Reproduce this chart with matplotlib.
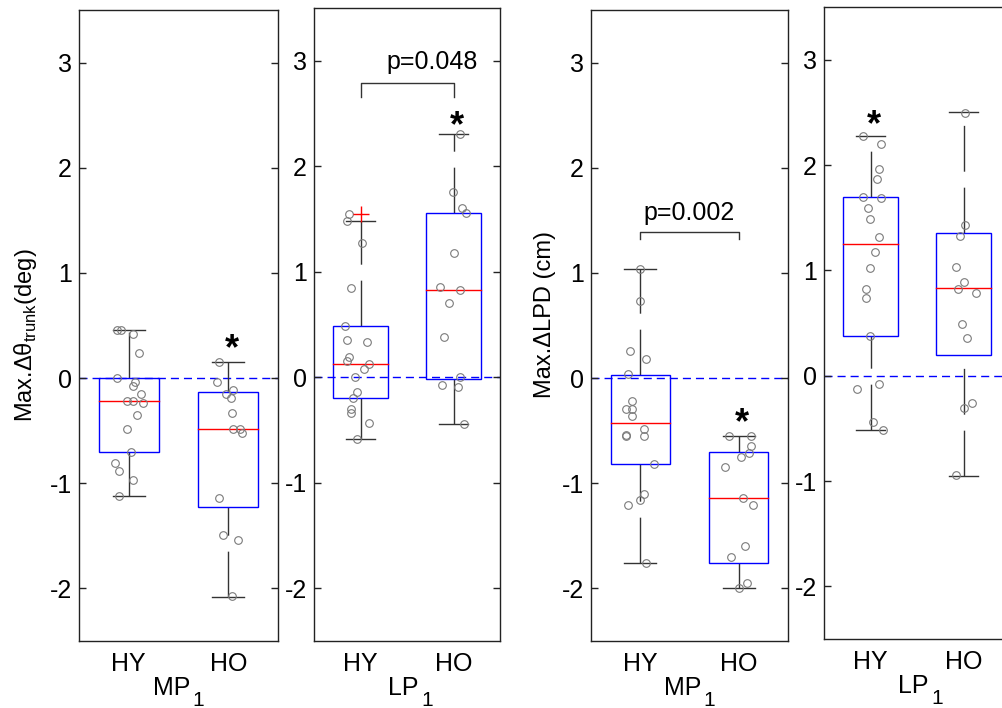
import numpy as np
import matplotlib
matplotlib.use('Agg')
import matplotlib.pyplot as plt
from matplotlib.patches import Rectangle

plt.rcParams['font.family'] = ['Liberation Sans', 'DejaVu Sans']
plt.rcParams['mathtext.fontset'] = 'custom'
plt.rcParams['mathtext.rm'] = 'Liberation Sans'
plt.rcParams['axes.unicode_minus'] = False

groups = ['HY', 'HO']
yticks = [-2, -1, 0, 1, 2, 3]

# ---- MP1, trunk angle (deg) ----
mp1_theta_hy = [0.46, 0.46, 0.42, 0.24, 0.0, -0.04, -0.08, -0.15, -0.22, -0.22,
                -0.24, -0.35, -0.48, -0.70, -0.81, -0.88, -0.97, -1.12]
mp1_theta_ho = [0.15, -0.04, -0.11, -0.15, -0.19, -0.33, -0.48, -0.48, -0.52,
                -1.14, -1.49, -1.54, -2.07]
# box stats: lower whisker, q1, median, q3, upper whisker
mp1_theta_stats = [[-1.12, -0.70, -0.22, 0.0, 0.46],
                   [-2.08, -1.23, -0.48, -0.13, 0.15]]

# ---- LP1, trunk angle (deg) ----
lp1_theta_hy = [1.55, 1.48, 1.27, 0.85, 0.49, 0.355, 0.336, 0.19, 0.15, 0.124,
                0.076, 0.003, -0.14, -0.197, -0.30, -0.336, -0.435, -0.584]
lp1_theta_ho = [2.31, 1.76, 1.60, 1.56, 1.18, 0.86, 0.83, 0.70, 0.386, 0.004,
                -0.07, -0.094, -0.44]
lp1_theta_stats = [[-0.584, -0.197, 0.127, 0.49, 1.48],
                   [-0.44, -0.02, 0.83, 1.56, 2.31]]
lp1_theta_outliers = [[1.55], []]

# ---- MP1, LPD (cm) ----
mp1_lpd_hy = [1.04, 0.73, 0.26, 0.185, 0.04, -0.22, -0.29, -0.29, -0.365, -0.54,
              -0.55, -0.48, -0.55, -0.82, -1.10, -1.16, -1.21, -1.76]
mp1_lpd_ho = [-0.55, -0.55, -0.65, -0.71, -0.755, -0.845, -1.14, -1.21, -1.60,
              -1.70, -1.95, -2.0]
mp1_lpd_stats = [[-1.76, -0.82, -0.425, 0.034, 1.04],
                 [-2.0, -1.76, -1.14, -0.70, -0.55]]

# ---- LP1, LPD (cm) ----
lp1_lpd_hy = [2.28, 2.20, 1.96, 1.87, 1.70, 1.69, 1.59, 1.49, 1.32, 1.17, 1.02,
              0.82, 0.74, 0.38, -0.08, -0.13, -0.44, -0.52]
lp1_lpd_ho = [2.49, 1.43, 1.33, 1.03, 0.89, 0.82, 0.785, 0.49, 0.36, -0.26,
              -0.31, -0.94]
lp1_lpd_stats = [[-0.52, 0.38, 1.25, 1.70, 2.28],
                 [-0.95, 0.20, 0.83, 1.35, 2.50]]

# horizontal jitter of the scatter points
jit_mp1_theta = [[-0.12, -0.08, 0.04, 0.10, -0.12, 0.06, 0.04, 0.12, -0.02, 0.04,
                  0.14, 0.08, -0.02, 0.02, -0.14, -0.10, 0.04, -0.10],
                 [-0.09, -0.11, 0.05, -0.02, 0.03, 0.04, 0.05, 0.12, 0.14, -0.09,
                  -0.05, 0.10, 0.04]]
jit_lp1_theta = [[-0.12, -0.14, 0.02, -0.10, -0.17, -0.14, 0.065, -0.12, -0.14, 0.087,
                  0.04, -0.06, -0.036, -0.08, -0.10, -0.10, 0.087, -0.036],
                 [0.07, -0.01, 0.09, 0.13, 0.0, -0.14, 0.07, -0.05, -0.10, 0.07,
                  -0.12, 0.05, 0.11]]
jit_mp1_lpd = [[0.0, 0.0, -0.10, 0.06, -0.12, -0.08, -0.14, -0.08, -0.08, -0.14,
                -0.14, 0.04, 0.04, 0.14, 0.04, 0.0, -0.12, 0.06],
               [-0.10, 0.12, 0.125, 0.10, 0.02, -0.14, 0.04, 0.14, 0.06, -0.08,
                0.08, 0.0]]
jit_lp1_lpd = [[-0.08, 0.11, 0.09, 0.07, -0.08, 0.11, -0.03, -0.01, 0.09, 0.05,
                -0.01, -0.05, -0.05, -0.01, 0.09, -0.14, 0.03, 0.13],
               [0.02, 0.02, -0.04, -0.08, 0.0, -0.06, 0.13, -0.02, 0.04, 0.09,
                0.0, -0.08]]

font_size = 18
label_size = 17
frame_col = '#222222'
whisk_col = '#333333'

fig = plt.figure(figsize=(10.02, 7.08), dpi=100)
W, H = 1002.0, 708.0


def make_axes(x0, y0, x1, y1):
    return fig.add_axes([x0 / W, 1 - y1 / H, (x1 - x0) / W, (y1 - y0) / H])


def sub_label(ax, main, sub):
    # MATLAB-style label with a big, low subscript
    ax.annotate(main, xy=(0.5, 0), xycoords='axes fraction', xytext=(12, -47),
                textcoords='offset pixels', ha='right', va='center',
                fontsize=font_size, annotation_clip=False)
    ax.annotate(sub, xy=(0.5, 0), xycoords='axes fraction', xytext=(14, -50),
                textcoords='offset pixels', ha='left', va='top',
                fontsize=font_size - 3, annotation_clip=False)


def panel(ax, samples, jitter, stats, xlabel, outliers=None):
    for i in range(2):
        x = i + 1
        lo, q1, med, q3, hi = stats[i]
        # whiskers (dash pattern starts at the lower end)
        ax.plot([x, x], [lo, q1], color=whisk_col, lw=1, dashes=(33, 11.5), zorder=2)
        ax.plot([x, x], [q3, hi], color=whisk_col, lw=1, dashes=(33, 11.5), zorder=2)
        ax.plot([x - 0.16, x + 0.16], [lo, lo], color=whisk_col, lw=1, zorder=2)
        ax.plot([x - 0.16, x + 0.16], [hi, hi], color=whisk_col, lw=1, zorder=2)
        ax.add_patch(Rectangle((x - 0.3, q1), 0.6, q3 - q1, fill=False,
                               ec='blue', lw=1, zorder=3))
        ax.plot([x - 0.3, x + 0.3], [med, med], color='red', lw=1, zorder=3)
        ax.plot(x + np.array(jitter[i]), samples[i], 'o', mfc='none', mec='#7a7a7a',
                ms=5.5, mew=0.8, zorder=4)
        if outliers is not None and len(outliers[i]) > 0:
            ax.plot([x] * len(outliers[i]), outliers[i], '+', color='red',
                    ms=11, mew=1, zorder=4)
    ax.axhline(0, color='blue', lw=1, dashes=(5.8, 3.6), zorder=1)
    ax.set_xlim(0.5, 2.5)
    ax.set_ylim(-2.5, 3.5)
    ax.set_yticks(yticks)
    ax.set_yticklabels([str(t) for t in yticks])
    ax.set_xticks([1, 2])
    ax.set_xticklabels(groups)
    ax.tick_params(axis='y', direction='in', length=5, width=1, color=frame_col,
                   left=True, right=True, labelsize=font_size, pad=5)
    ax.tick_params(axis='x', length=0, labelsize=font_size, pad=8)
    for s in ax.spines.values():
        s.set_color(frame_col)
        s.set_linewidth(1)
    sub_label(ax, xlabel, '1')


def star(ax, x, y):
    ax.annotate('*', xy=(x, y), xytext=(0, -21), textcoords='offset pixels',
                ha='center', va='baseline', fontsize=26, fontweight='bold')


def bracket(ax, y_top, y_bot, text, tx, ty):
    ax.plot([1, 1, 2, 2], [y_bot, y_top, y_top, y_bot], color=whisk_col, lw=1)
    ax.text(tx, ty, text, ha='center', va='center', fontsize=font_size)


ax1 = make_axes(79, 10, 278, 641)
panel(ax1, [mp1_theta_hy, mp1_theta_ho], jit_mp1_theta, mp1_theta_stats, 'MP')
ax1.set_ylabel('Max.Δθ$_\\mathregular{trunk}$(deg)', fontsize=label_size)
ax1.yaxis.set_label_coords(-0.20, 0.485)
star(ax1, 2.04, 0.38)

ax2 = make_axes(314, 8, 500, 641)
panel(ax2, [lp1_theta_hy, lp1_theta_ho], jit_lp1_theta, lp1_theta_stats, 'LP',
      outliers=lp1_theta_outliers)
star(ax2, 2.04, 2.48)
bracket(ax2, 2.79, 2.66, 'p=0.048', 1.77, 2.99)

ax3 = make_axes(591, 10, 788, 641)
panel(ax3, [mp1_lpd_hy, mp1_lpd_ho], jit_mp1_lpd, mp1_lpd_stats, 'MP')
ax3.set_ylabel('Max.ΔLPD (cm)', fontsize=label_size)
ax3.yaxis.set_label_coords(-0.178, 0.517)
star(ax3, 2.03, -0.32)
bracket(ax3, 1.39, 1.32, 'p=0.002', 1.5, 1.57)

ax4 = make_axes(824, 7, 1010, 639)
panel(ax4, [lp1_lpd_hy, lp1_lpd_ho], jit_lp1_lpd, lp1_lpd_stats, 'LP')
star(ax4, 1.04, 2.48)

fig.savefig('out.png', dpi=100)
